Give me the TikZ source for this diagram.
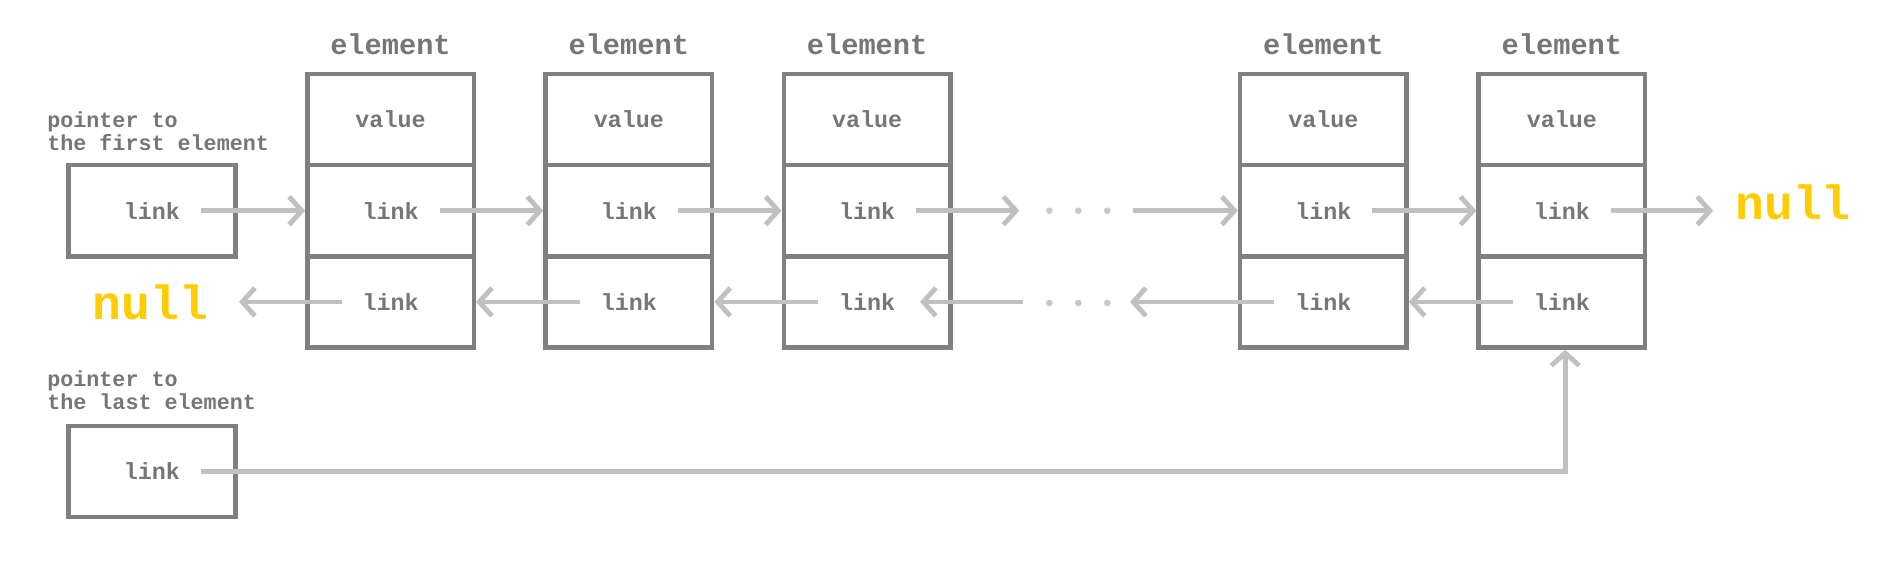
\documentclass[tikz,border=0pt]{standalone}
\usepackage{fontspec}
\setmainfont{Liberation Mono}
\usetikzlibrary{arrows.meta,calc}
\definecolor{boxgray}{RGB}{128,128,128}
\definecolor{txtgray}{RGB}{118,118,118}
\definecolor{arrgray}{RGB}{192,192,192}
\definecolor{dotgray}{RGB}{200,200,200}
\definecolor{nullyellow}{RGB}{255,204,0}
\begin{document}
\begin{tikzpicture}[x=0.75pt,y=-0.75pt,
  cell/.style={draw=boxgray,line width=3.4pt,minimum width=124.9pt,minimum height=68.4pt,inner sep=0pt,text=txtgray,font=\fontsize{17.5}{20}\selectfont\bfseries},
  elabel/.style={anchor=base,text=txtgray,font=\fontsize{21.5}{24}\selectfont\bfseries,inner sep=0pt},
  plabel/.style={anchor=base west,align=left,text=txtgray,font=\fontsize{16.3}{17}\selectfont\bfseries,inner sep=0pt},
  nulltxt/.style={anchor=base,text=nullyellow,font=\fontsize{36}{40}\selectfont\bfseries,inner ysep=0pt},
  arr/.style={draw=arrgray,line width=3.6pt,-{Straight Barb[length=9.5pt,width=21pt]}},
  dotmark/.style={circle,fill=dotgray,inner sep=0pt,minimum size=5pt}
]
\useasboundingbox[fill=white] (0,0) rectangle (1897,565);

% element boxes
\foreach \i/\x in {1/390.5,2/628.8,3/867.1,4/1323.3,5/1561.9}{
  \node[elabel] (lab\i) at (\x,54.3) {element};
  \node[cell] (e\i v) at (\x,119.5) {value};
  \node[cell] (e\i n) at (\x,210.7) {link};
  \node[cell] (e\i p) at (\x,301.9) {link};
}

% pointer boxes
\node[plabel] (pl1) at (47,150) {pointer to\\the first element};
\node[cell] (p1) at (152,210.7) {link};
\node[plabel] (pl2) at (47,409) {pointer to\\the last element};
\node[cell] (p2) at (152,471.4) {link};

% null labels
\node[nulltxt,inner xsep=23pt] (nullL) at (150.5,319) {null};
\node[nulltxt,inner xsep=16.5pt] (nullR) at (1793,219.3) {null};

% dots
\foreach \j/\x in {1/1049.3,2/1078.3,3/1107.3}{
  \node[dotmark] (td\j) at (\x,210.7) {};
  \node[dotmark] (bd\j) at (\x,303) {};
}
\coordinate (gapA) at (1019.3,210.7);
\coordinate (gapB) at (1133.3,210.7);
\coordinate (gapC) at (1022.7,301.9);
\coordinate (gapD) at (920,301.9);
\coordinate (gapE) at (1130,301.9);

% forward links
\draw[arr] ($(p1.center)+(49,0)$) -- (e1n.west);
\draw[arr] ($(e1n.center)+(49,0)$) -- (e2n.west);
\draw[arr] ($(e2n.center)+(49,0)$) -- (e3n.west);
\draw[arr] ($(e3n.center)+(49,0)$) -- (gapA);
\draw[arr] (gapB) -- (e4n.west);
\draw[arr] ($(e4n.center)+(49,0)$) -- (e5n.west);
\draw[arr] ($(e5n.center)+(49,0)$) -- (nullR.west |- e5n.center);

% backward links
\draw[arr] ($(e1p.center)-(49,0)$) -- (nullL.east |- e1p.center);
\draw[arr] ($(e2p.center)-(49,0)$) -- (e1p.east);
\draw[arr] ($(e3p.center)-(49,0)$) -- (e2p.east);
\draw[arr] (gapC) -- (gapD);
\draw[arr] ($(e4p.center)-(49,0)$) -- (gapE);
\draw[arr] ($(e5p.center)-(49,0)$) -- (e4p.east);

% last pointer
\draw[arr] ($(p2.center)+(49,0)$) -| ([xshift=2.5pt]e5p.south);
\end{tikzpicture}
\end{document}
